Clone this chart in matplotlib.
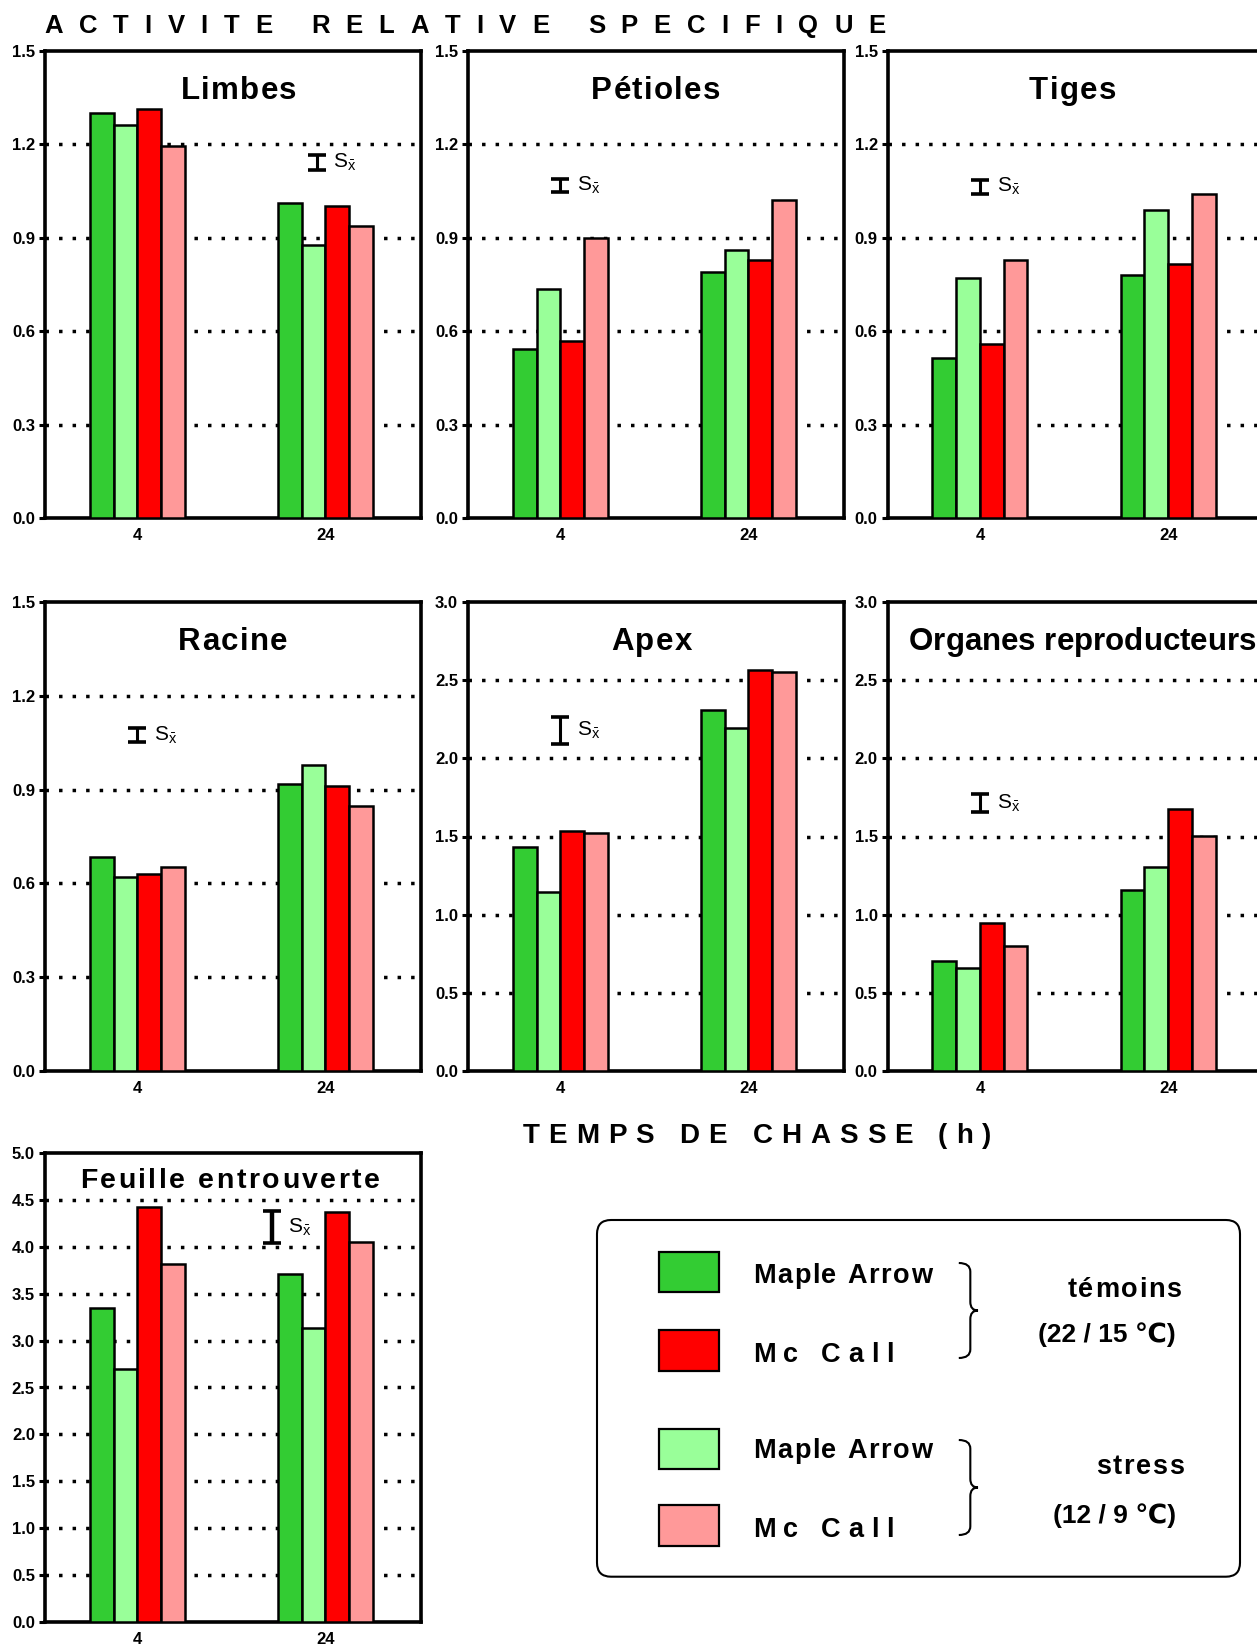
import numpy as np
import matplotlib
matplotlib.use("Agg")
import matplotlib.pyplot as plt
from matplotlib import font_manager
from matplotlib.font_manager import FontProperties
from matplotlib.ft2font import FT2Font
from matplotlib.patches import Rectangle, FancyBboxPatch, PathPatch
from matplotlib.path import Path

FONT = "Liberation Sans"
plt.rcParams["font.family"] = [FONT, "DejaVu Sans"]
plt.rcParams["mathtext.fontset"] = "custom"
plt.rcParams["mathtext.rm"] = FONT
plt.rcParams["mathtext.it"] = FONT + ":italic"
plt.rcParams["mathtext.bf"] = FONT + ":bold"

# ---------------------------------------------------------------- data
hours = ["4", "24"]
# bar order inside each group: Maple Arrow témoins, Maple Arrow stress,
# Mc Call témoins, Mc Call stress
bar_colors = ["#33CC33", "#99FF99", "#FF0000", "#FF9999"]

organs = ["Limbes", "Pétioles", "Tiges", "Racine", "Apex",
          "Organes reproducteurs", "Feuille entrouverte"]

limbes_4h = [1.302, 1.262, 1.313, 1.195]
limbes_24h = [1.011, 0.876, 1.002, 0.938]
petioles_4h = [0.544, 0.735, 0.567, 0.900]
petioles_24h = [0.789, 0.862, 0.829, 1.020]
tiges_4h = [0.513, 0.772, 0.560, 0.829]
tiges_24h = [0.782, 0.990, 0.815, 1.040]
racine_4h = [0.685, 0.621, 0.631, 0.651]
racine_24h = [0.919, 0.980, 0.913, 0.849]
apex_4h = [1.430, 1.148, 1.537, 1.523]
apex_24h = [2.309, 2.195, 2.566, 2.551]
organes_4h = [0.705, 0.658, 0.946, 0.799]
organes_24h = [1.160, 1.302, 1.675, 1.505]
feuille_4h = [3.346, 2.700, 4.424, 3.820]
feuille_24h = [3.710, 3.136, 4.375, 4.050]

values = [
    [limbes_4h, limbes_24h],
    [petioles_4h, petioles_24h],
    [tiges_4h, tiges_24h],
    [racine_4h, racine_24h],
    [apex_4h, apex_24h],
    [organes_4h, organes_24h],
    [feuille_4h, feuille_24h],
]

y_max = [1.5, 1.5, 1.5, 1.5, 3.0, 3.0, 5.0]
y_step = [0.3, 0.3, 0.3, 0.3, 0.5, 0.5, 0.5]

# standard error of the mean, shown as a single I-bar per panel
sx_pos = [0.953, 0.0, 0.0, 0.0, 0.0, 0.0, 0.714]
sx_mean = [1.142, 1.068, 1.064, 1.074, 2.178, 1.713, 4.210]
sx_err = [0.024, 0.022, 0.022, 0.022, 0.084, 0.056, 0.170]

legend_labels = ["Maple Arrow", "Mc Call", "Maple Arrow", "Mc Call"]
legend_color_idx = [0, 2, 1, 3]
group_names = ["témoins", "stress"]
group_temps = ["(22 / 15 \u2103)", "(12 / 9 \u2103)"]

title_text = "ACTIVITE RELATIVE SPECIFIQUE"
xlabel_text = "TEMPS DE CHASSE (h)"

# ---------------------------------------------------------------- layout
W, H, DPI = 1257, 1644, 100
fig = plt.figure(figsize=(W / DPI, H / DPI), dpi=DPI)
fig.patch.set_facecolor("white")

col_left = [45, 468, 887.7]
col_width = 375.5
row_top = [51, 602, 1153.3]
row_height = [467, 469, 468.4]
panel_cell = [(0, 0), (0, 1), (0, 2), (1, 0), (1, 1), (1, 2), (2, 0)]

BAR_W = 0.126
offsets = (np.arange(4) - 1.5) * BAR_W
xpos = np.arange(len(hours))

# overlay axes in pixel units (origin top-left) for free-standing text
ov = fig.add_axes([0, 0, 1, 1], zorder=10)
ov.set_xlim(0, W)
ov.set_ylim(H, 0)
ov.axis("off")

_font_path = font_manager.findfont(FontProperties(family=FONT, weight="bold"))


def tracked_text(ax, x, y, s, size, track, align="left"):
    """Bold text with extra letter spacing, placed glyph by glyph."""
    ft = FT2Font(_font_path)
    ft.set_size(size, DPI)
    glyphs = [ft.load_char(ord(ch)) for ch in s]
    adv = [g.linearHoriAdvance / 65536 for g in glyphs]
    lsb0 = glyphs[0].horiBearingX / 64
    total = sum(adv) + track * (len(s) - 1)
    if align == "center":
        pen = x - total / 2
    else:
        pen = x - lsb0
    for ch, a in zip(s, adv):
        if ch != " ":
            # glyphs are drawn from their pen origin
            ax.text(pen, y, ch, fontsize=size, fontweight="bold",
                    ha="left", va="baseline")
        pen += a + track


title_track = [1.3, 1.3, 1.3, 1.3, 1.3, 0.0]
title_center_dx = [6, 0, -3, 0, -4, 7]

for k, (r, c) in enumerate(panel_cell):
    left, top, h = col_left[c], row_top[r], row_height[r]
    ax = fig.add_axes([left / W, 1 - (top + h) / H, col_width / W, h / H])
    vals = np.array(values[k])
    for j in range(4):
        ax.bar(xpos + offsets[j], vals[:, j], BAR_W, color=bar_colors[j],
               edgecolor="black", linewidth=1.8, zorder=3)

    yt = np.round(np.arange(0, y_max[k] + y_step[k] / 2, y_step[k]), 2)
    for t in yt[1:-1]:
        ax.axhline(t, color="black", linestyle=(0, (1, 2.9)), linewidth=2.5,
                   zorder=1)
    ax.set_ylim(0, y_max[k])
    ax.set_xlim(-0.49, 1.505)
    ax.set_yticks(yt, labels=[f"{v:.1f}" for v in yt], fontweight="bold",
                  fontsize=12)
    ax.set_xticks(xpos, labels=hours, fontweight="bold", fontsize=12)
    ax.tick_params(axis="y", direction="out", length=4.3, width=2.2, pad=2.9)
    ax.tick_params(axis="x", length=0, pad=7.5)
    for sp in ax.spines.values():
        sp.set_linewidth(2.6)

    if k < 6:
        tracked_text(ov, left + col_width / 2 + title_center_dx[k],
                     top + 0.103 * h, organs[k], 22.5, title_track[k],
                     align="center")

    ax.errorbar(sx_pos[k], sx_mean[k], yerr=sx_err[k], fmt="none",
                ecolor="black", elinewidth=3.2 if k == 6 else 2.2,
                capsize=6.4, capthick=2.6, zorder=4)
    ax.annotate(r"$\mathrm{S}_{\bar{\mathrm{x}}}$", xy=(sx_pos[k], sx_mean[k]),
                xytext=(12, 0), textcoords="offset points", ha="left",
                va="center", fontsize=15)


def brace(ax, x0, x1, y0, y1, lw=1.5):
    xm = x0 + 0.6 * (x1 - x0)
    ym = 0.5 * (y0 + y1)
    rr = 0.45 * (x1 - x0)
    verts = [(x0, y0), (xm, y0), (xm, y0 + rr),
             (xm, ym - rr),
             (xm, ym), (x1, ym),
             (xm, ym), (xm, ym + rr),
             (xm, y1 - rr),
             (xm, y1), (x0, y1)]
    codes = [Path.MOVETO, Path.CURVE3, Path.CURVE3,
             Path.LINETO,
             Path.CURVE3, Path.CURVE3,
             Path.CURVE3, Path.CURVE3,
             Path.LINETO,
             Path.CURVE3, Path.CURVE3]
    ax.add_patch(PathPatch(Path(verts, codes), fill=False, lw=lw,
                           edgecolor="black"))


tracked_text(ov, 45, 33.3, title_text, 18.5, 15.8)
tracked_text(ov, 523, 1143.3, xlabel_text, 20, 8.9)
tracked_text(ov, 81.7, 1188.3, organs[6], 20.5, 2.5)

# legend box
ov.add_patch(FancyBboxPatch((597, 1220), 643, 356.7,
                            boxstyle="round,pad=0,rounding_size=14",
                            facecolor="none", edgecolor="black", lw=1.5))
swatch_top = [1251.7, 1330.0, 1428.7, 1505.0]
label_base = [1282.7, 1361.7, 1457.7, 1536.7]
for i in range(4):
    ov.add_patch(Rectangle((658.8, swatch_top[i]), 60.6, 40.5,
                           facecolor=bar_colors[legend_color_idx[i]],
                           edgecolor="black", lw=1.6))
    track = 1.6 if legend_labels[i].startswith("Maple") else 7.6
    tracked_text(ov, 755, label_base[i], legend_labels[i], 19.5, track)

brace(ov, 958.8, 978, 1263, 1358)
brace(ov, 958.8, 978, 1440, 1535)

tracked_text(ov, 1068, 1296.5, group_names[0], 19.5, 1.6)
tracked_text(ov, 1097, 1474.0, group_names[1], 19.5, 1.6)
ov.text(1176, 1342, group_temps[0], ha="right", va="baseline", fontsize=19,
        fontweight="bold")
ov.text(1176, 1522.7, group_temps[1], ha="right", va="baseline", fontsize=19,
        fontweight="bold")

fig.savefig("out.png", dpi=DPI)
